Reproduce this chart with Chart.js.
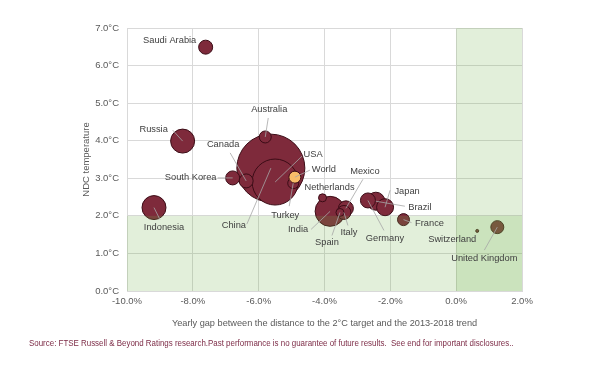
<!DOCTYPE html>
<html>
<head>
<meta charset="utf-8">
<script src="https://cdn.jsdelivr.net/npm/chart.js@4/dist/chart.umd.min.js"></script>
<style>
	body { margin: 0; background: #fff; }
	#wrap { position: relative; width: 607px; height: 369px; }
	#source {
		position: absolute; left: 29px; top: 337px;
		font: 9.5px "Liberation Sans", Arial, sans-serif;
		color: #7d2c47; white-space: pre;
		transform: scaleX(0.835); transform-origin: left center;
	}
</style>
</head>
<body>
<div id="wrap">
	<canvas id="graph" width="607" height="369"></canvas>
	<div id="source">Source: FTSE Russell &amp; Beyond Ratings research.Past performance is no guarantee of future results.  See end for important disclosures..</div>
</div>
<script>
// == NDC temperature vs yearly gap to the 2°C trajectory ==
// bubble size ~ weight of the country, biggest drawn first so small ones stay visible

const countries = ['China', 'USA', 'India', 'Russia', 'Indonesia', 'Brazil', 'Japan', 'Germany',
	'Mexico', 'Italy', 'Saudi Arabia', 'Canada', 'South Korea', 'United Kingdom', 'France',
	'Australia', 'Turkey', 'Spain', 'Netherlands', 'Switzerland', 'World'];
const yearlyGap = [-5.63, -5.50, -3.83, -8.31, -9.18, -2.44, -2.16, -2.68,
	-3.35, -3.41, -7.61, -6.38, -6.79, 1.25, -1.60,
	-5.80, -4.95, -3.53, -4.06, 0.64, -4.90];
const ndcTemp = [3.27, 2.90, 2.12, 3.99, 2.22, 2.39, 2.23, 2.41,
	2.20, 2.09, 6.49, 2.93, 3.01, 1.70, 1.90,
	4.10, 2.87, 2.09, 2.48, 1.60, 3.03];
const bubbleSize = [34, 23, 15, 12, 12, 9, 8.5, 7.5,
	7.5, 7, 7, 7, 7, 6.5, 6,
	6, 5.5, 4, 4, 1.5, 6];

const xTicks = [-10, -8, -6, -4, -2, 0, 2];
const yTicks = [0, 1, 2, 3, 4, 5, 6, 7];
const targetTemp = 2;   // green band below this
const targetGap = 0;    // green band right of this

// label placement, pixel offsets from the bubble centre: [labelDx, labelDy, lineDx, lineDy]
// lineDx/lineDy = where the leader starts (null = no leader)
const labelLayout = {
	'Saudi Arabia': [-36, -7, null, null],
	'Russia': [-29, -12, -10, -11],
	'Indonesia': [10, 20, 6, 12],
	'Australia': [4, -28, 3, -19],
	'China': [-37, 57, -24, 56],
	'USA': [38, -28, 27, -26],
	'World': [29, -8, 15, -7],
	'Turkey': [-8, 32, -4, 23],
	'Canada': [-23, -36, -16, -28],
	'South Korea': [-42, 0, -15, 0],
	'Netherlands': [7, -10, null, null],
	'India': [-32, 18, -19, 18],
	'Spain': [-13, 30, -8, 23],
	'Italy': [5, 20, 4, 13],
	'Mexico': [19, -37, 17, -29],
	'Japan': [22, -16, 5, -17],
	'Brazil': [44, 6, 29, 5],
	'Germany': [17, 38, 16, 30],
	'France': [26, 4, 8, 3],
	'Switzerland': [-25, 9, null, null],
	'United Kingdom': [-13, 31, -13, 23]
};

const FONT = '"Liberation Sans", Arial, sans-serif';

// green zones are laid over the bubbles, labels go on top of that
const overlayPlugin = {
	id: 'overlay',
	afterDatasetsDraw(chart) {
		const {ctx, chartArea: a, scales: {x, y}} = chart;
		ctx.save();
		ctx.fillStyle = 'rgba(112,173,71,0.2)';
		let yT = y.getPixelForValue(targetTemp);
		ctx.fillRect(a.left, yT, a.right - a.left, a.bottom - yT);
		let xT = x.getPixelForValue(targetGap);
		ctx.fillRect(xT, a.top, a.right - xT, a.bottom - a.top);

		let meta = chart.getDatasetMeta(0);
		ctx.font = '9.3px ' + FONT;
		ctx.textAlign = 'center';
		ctx.textBaseline = 'middle';
		meta.data.forEach(function(pt, i) {
			let lay = labelLayout[countries[i]];
			if (!lay) return;
			if (lay[2] !== null) {
				ctx.strokeStyle = '#a6a6a6';
				ctx.lineWidth = 0.8;
				ctx.beginPath();
				ctx.moveTo(pt.x + lay[2], pt.y + lay[3]);
				ctx.lineTo(pt.x, pt.y);
				ctx.stroke();
			}
			ctx.fillStyle = '#404040';
			ctx.fillText(countries[i], pt.x + lay[0], pt.y + lay[1]);
		});
		ctx.restore();
	}
};

let graphCtx = document.getElementById('graph').getContext('2d');
let chart = new Chart(graphCtx, {
	type: 'bubble',
	data: {
		datasets: [{
			label: 'Countries',
			data: countries.map(function(c, i) {
				return {x: yearlyGap[i], y: ndcTemp[i], r: bubbleSize[i]};
			}),
			backgroundColor: countries.map(function(c) {
				return c === 'World' ? '#f9bd68' : '#7e2a3b';
			}),
			borderColor: '#3b0c16',
			borderWidth: 1
		}]
	},
	options: {
		responsive: false,
		animation: false,
		clip: false,
		layout: {autoPadding: false, padding: {left: 77, right: 85, top: 28, bottom: 36}},
		plugins: {
			legend: {display: false},
			tooltip: {enabled: false}
		},
		scales: {
			x: {
				type: 'linear',
				min: xTicks[0],
				max: xTicks[xTicks.length - 1],
				afterBuildTicks: function(s) { s.ticks = xTicks.map(function(v) { return {value: v}; }); },
				afterFit: function(s) { s.height = 42; },
				grid: {color: '#d9d9d9', drawTicks: false},
				border: {color: '#d9d9d9'},
				ticks: {
					padding: 5,
					color: '#595959',
					font: {family: FONT, size: 9.5},
					maxRotation: 0,
					callback: function(v) { return v.toFixed(1) + '%'; }
				},
				title: {
					display: true,
					text: 'Yearly gap between the distance to the 2°C target and the 2013-2018 trend',
					color: '#595959',
					font: {family: FONT, size: 9.2}
				}
			},
			y: {
				type: 'linear',
				min: yTicks[0],
				max: yTicks[yTicks.length - 1],
				afterBuildTicks: function(s) { s.ticks = yTicks.map(function(v) { return {value: v}; }); },
				afterFit: function(s) { s.width = 50; },
				grid: {color: '#d9d9d9', drawTicks: false},
				border: {color: '#d9d9d9'},
				ticks: {
					padding: 8,
					color: '#595959',
					font: {family: FONT, size: 9.5},
					callback: function(v) { return v.toFixed(1) + '°C'; }
				},
				title: {
					display: true,
					text: 'NDC temperature',
					color: '#595959',
					font: {family: FONT, size: 9.5}
				}
			}
		}
	},
	plugins: [overlayPlugin]
});
</script>
</body>
</html>
